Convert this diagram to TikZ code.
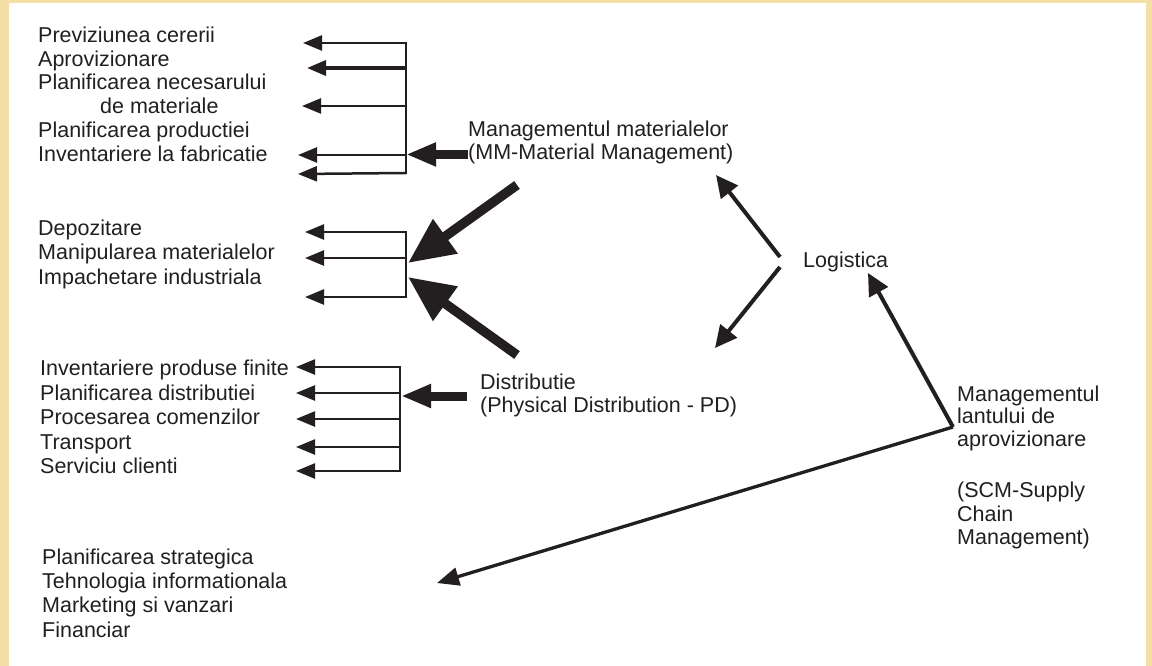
\documentclass[tikz,border=0pt]{standalone}
\usepackage{fontspec}
\setmainfont{Liberation Sans}
\usetikzlibrary{arrows.meta}
\definecolor{ink}{RGB}{35,31,32}
\definecolor{framecol}{RGB}{244,224,166}

\begin{document}
\begin{tikzpicture}[x=1pt,y=-1pt,
  lbl/.style={anchor=base west, inner sep=0pt, text=ink,
              font=\fontsize{21.5}{24}\selectfont},
  fork/.style={draw=ink, line width=2.5pt},
  branch/.style={draw=ink, line width=2.5pt, -{Triangle[length=19pt,width=15pt]}},
  feed/.style={draw=ink, line width=9pt, -{Triangle[length=30pt,width=22pt]}},
  heavy/.style={draw=ink, line width=9.5pt, -{Triangle[length=46pt,width=40pt]}},
  link/.style={draw=ink, line width=4pt, -{Triangle[length=22pt,width=21pt]}},
  longlink/.style={draw=ink, line width=3.3pt, -{Triangle[length=22pt,width=18pt]}},
]
% page and frame
\useasboundingbox (0,0) rectangle (1152,666);
\fill[framecol] (0,0) rectangle (1152,666);
\fill[white] (9,3) rectangle (1146,666);

% --- materials management activities
\node[lbl] (m1) at (38,43)  {Previziunea cererii};
\node[lbl] (m2) at (38,66.5){Aprovizionare};
\node[lbl] (m3) at (38,90)  {Planificarea necesarului};
\node[lbl] (m4) at (100,114){de materiale};
\node[lbl] (m5) at (38,138) {Planificarea productiei};
\node[lbl] (m6) at (38,162) {Inventariere la fabricatie};

\coordinate (f1a) at (406,43);  \coordinate (g1a) at (303,43);
\coordinate (f1b) at (406,68);  \coordinate (g1b) at (307,68);
\coordinate (f1c) at (406,106); \coordinate (g1c) at (302,106);
\coordinate (f1d) at (406,155); \coordinate (g1d) at (298,155);
\coordinate (f1e) at (406,173); \coordinate (g1e) at (298,174);
\draw[fork, line cap=rect] (f1a) -- (f1e);
\draw[branch] (f1a) -- (g1a);
\draw[branch, line width=3.5pt] (f1b) -- (g1b);
\draw[branch] (f1c) -- (g1c);
\draw[branch] (f1d) -- (g1d);
\draw[branch] (f1e) -- (g1e);

\node[lbl] (mm1) at (468,137) {Managementul materialelor};
\node[lbl] (mm2) at (468,160) {(MM-Material Management)};
\draw[feed] (mm2.west) -- (mm2.west -| f1d);

% --- shared activities
\node[lbl] (w1) at (38,236) {Depozitare};
\node[lbl] (w2) at (38,259.5) {Manipularea materialelor};
\node[lbl] (w3) at (38,284) {Impachetare industriala};

\coordinate (f2a) at (406,232); \coordinate (g2a) at (305,232);
\coordinate (f2b) at (406,258); \coordinate (g2b) at (305,258);
\coordinate (f2c) at (406,297); \coordinate (g2c) at (305,297);
\draw[fork, line cap=rect] (f2a) -- (f2c);
\draw[branch] (f2a) -- (g2a);
\draw[branch] (f2b) -- (g2b);
\draw[branch] (f2c) -- (g2c);

\coordinate (mmo) at (517,185); \coordinate (f2u) at (408,263);
\coordinate (pdo) at (517,355); \coordinate (f2l) at (408,277);
\draw[heavy] (mmo) -- (f2u);
\draw[heavy] (pdo) -- (f2l);

% --- physical distribution activities
\node[lbl] (d1) at (40,375) {Inventariere produse finite};
\node[lbl] (d2) at (40,400) {Planificarea distributiei};
\node[lbl] (d3) at (40,424) {Procesarea comenzilor};
\node[lbl] (d4) at (40,449) {Transport};
\node[lbl] (d5) at (40,473) {Serviciu clienti};

\coordinate (f3a) at (400,367); \coordinate (g3a) at (296,367);
\coordinate (f3b) at (400,393); \coordinate (g3b) at (296,393);
\coordinate (f3c) at (400,419); \coordinate (g3c) at (296,419);
\coordinate (f3d) at (400,447); \coordinate (g3d) at (296,447);
\coordinate (f3e) at (400,471); \coordinate (g3e) at (296,471);
\draw[fork, line cap=rect] (f3a) -- (f3e);
\draw[branch] (f3a) -- (g3a);
\draw[branch] (f3b) -- (g3b);
\draw[branch] (f3c) -- (g3c);
\draw[branch] (f3d) -- (g3d);
\draw[branch] (f3e) -- (g3e);

\node[lbl] (pd1) at (480,389) {Distributie};
\node[lbl] (pd2) at (480,412) {(Physical Distribution - PD)};
\coordinate (pdin) at (467,396); \coordinate (f3x) at (401,396);
\draw[feed] (pdin) -- (f3x);

% --- logistics
\node[lbl] (log) at (803,267) {Logistica};
\coordinate (lu) at (780,257); \coordinate (mmt) at (716,175);
\coordinate (ld) at (780,267); \coordinate (pdt) at (715,348);
\draw[link] (lu) -- (mmt);
\draw[link] (ld) -- (pdt);

% --- supply chain management
\node[lbl] (s1) at (957,401) {Managementul};
\node[lbl] (s2) at (957,423) {lantului de};
\node[lbl] (s3) at (957,446) {aprovizionare};
\node[lbl] (s4) at (957,497) {(SCM-Supply};
\node[lbl] (s5) at (957,521) {Chain};
\node[lbl] (s6) at (957,544) {Management)};
\coordinate (scmj) at (953,427);
\coordinate (logt) at (868,273);
\coordinate (bizt) at (437,583);
\draw[link, line join=miter] (scmj) -- (logt);
\draw[longlink] (scmj) -- (bizt);

% --- business functions
\node[lbl] (b1) at (42,564) {Planificarea strategica};
\node[lbl] (b2) at (42,588) {Tehnologia informationala};
\node[lbl] (b3) at (42,612) {Marketing si vanzari};
\node[lbl] (b4) at (42,637) {Financiar};
\end{tikzpicture}
\end{document}
